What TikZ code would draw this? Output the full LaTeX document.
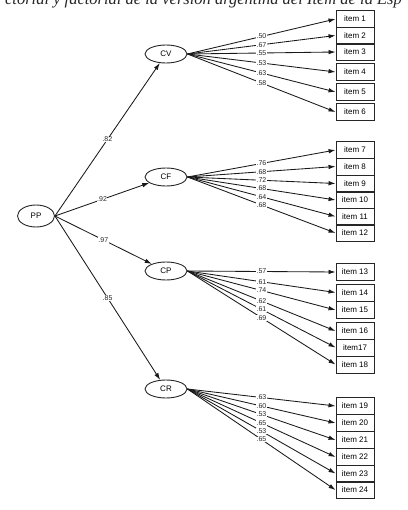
\documentclass[tikz,border=0pt]{standalone}
\usepackage{fontspec}
\setmainfont{Liberation Serif}
\newfontfamily\diagfont{Liberation Sans}
\usetikzlibrary{shapes.geometric,arrows.meta}
\tikzset{
  lat/.style={ellipse, draw=black!85, line width=0.9pt, minimum width=42pt, minimum height=18pt, inner sep=0pt, font=\diagfont\fontsize{8}{9}\selectfont},
  itm/.style={rectangle, draw=black!85, line width=0.9pt, minimum width=38pt, minimum height=17pt, inner sep=0pt, font=\diagfont\fontsize{8}{9}\selectfont},
  ld/.style={-{Latex[length=7pt,width=4.5pt]}, line width=0.85pt, draw=black!90},
  lbl/.style={font=\diagfont\fontsize{7}{8}\selectfont, fill=white, inner sep=0.3pt, text=black!85},
}
\begin{document}
\begin{tikzpicture}[x=1pt,y=-1pt]
\useasboundingbox (0,0) rectangle (407,510);
\begin{scope}
\clip (0,0) rectangle (407,510);
\node[anchor=base, font=\itshape\fontsize{16.5}{18}\selectfont, text=black!85] (cap) at (203.5,5) {ctorial y factorial de la versión argentina del Ítem de la Esp};
\end{scope}
% latent variables
\node[lat, minimum width=37pt, minimum height=22pt] (pp) at (36,216) {PP};
\node[lat] (cv) at (166,54) {CV};
\node[lat] (cf) at (166,177) {CF};
\node[lat] (cp) at (166,271) {CP};
\node[lat] (cr) at (166,389) {CR};
% items
\foreach \n/\y/\t in {1/19/item 1,2/35.5/item 2,3/52/item 3,4/72/item 4,5/92/item 5,6/112/item 6,
  7/150/item 7,8/166.5/item 8,9/183.5/item 9,10/200/item 10,11/216.5/item 11,12/233/item 12,
  13/272/item 13,14/292.5/item 14,15/310/item 15,16/331/item 16,17/347.5/item17,18/364.5/item 18,
  19/406/item 19,20/423/item 20,21/440/item 21,22/457/item 22,23/473.5/item 23,24/490/item 24}
  \node[itm] (i\n) at (355,\y) {\t};
% second-order loadings
\draw[ld] (pp.east) -- node[lbl]{.82} (cv);
\draw[ld] (pp.east) -- node[lbl]{.92} (cf);
\draw[ld] (pp.east) -- node[lbl]{.97} (cp);
\draw[ld] (pp.east) -- node[lbl]{.85} (cr);
% first-order loadings
\foreach \f/\a/\v in {cv/1/.50,cv/2/.67,cv/3/.55,cv/4/.53,cv/5/.63,cv/6/.58,
  cf/7/.76,cf/8/.68,cf/9/.72,cf/10/.68,cf/11/.64,cf/12/.68,
  cp/13/.57,cp/14/.61,cp/15/.74,cp/16/.62,cp/17/.61,cp/18/.69,
  cr/19/.63,cr/20/.60,cr/21/.53,cr/22/.65,cr/23/.53,cr/24/.65}
  \draw[ld] (\f.east) -- node[lbl]{\v} (i\a.west);
\end{tikzpicture}
\end{document}
